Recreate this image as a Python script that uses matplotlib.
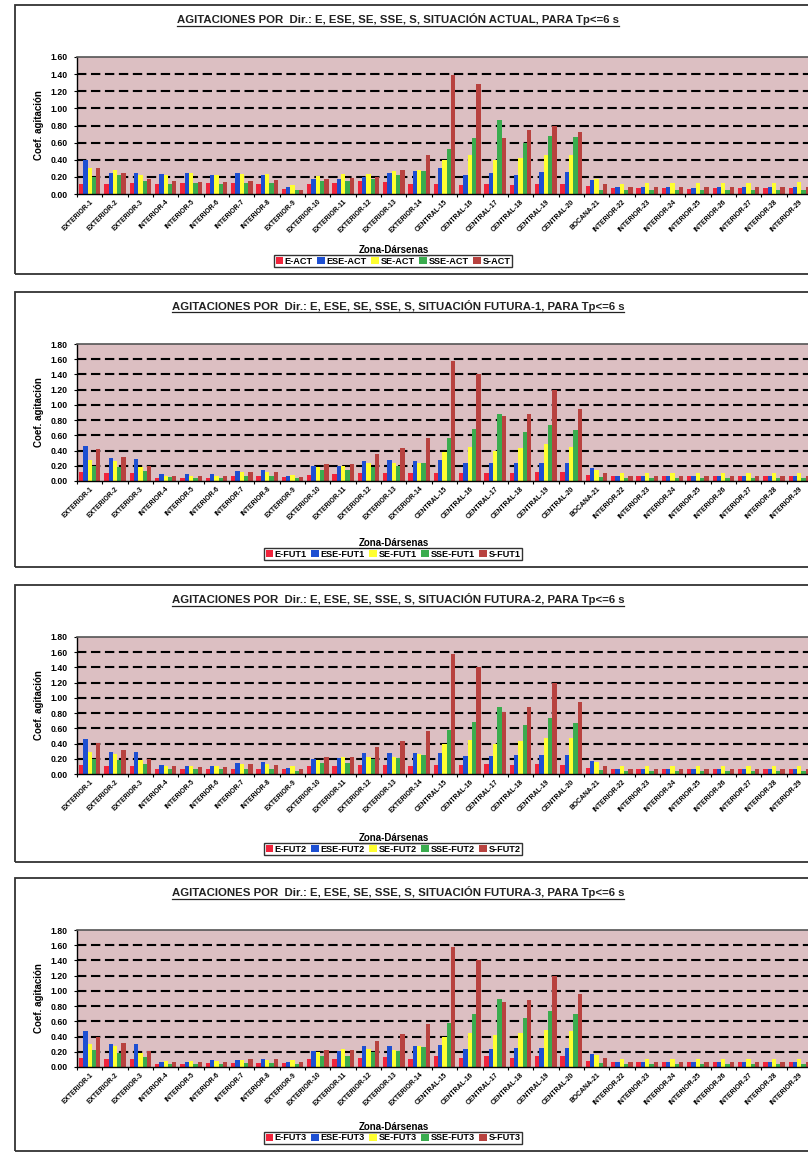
import numpy as np
import matplotlib
matplotlib.use('Agg')
import matplotlib.pyplot as plt
from matplotlib.patches import Rectangle
from matplotlib.lines import Line2D

plt.rcParams['font.family'] = ['Liberation Sans', 'DejaVu Sans']
plt.rcParams['font.weight'] = 'bold'

# categories (zones)
zonas = ['EXTERIOR-1', 'EXTERIOR-2', 'EXTERIOR-3', 'INTERIOR-4', 'INTERIOR-5',
         'INTERIOR-6', 'INTERIOR-7', 'INTERIOR-8', 'EXTERIOR-9', 'EXTERIOR-10',
         'EXTERIOR-11', 'EXTERIOR-12', 'EXTERIOR-13', 'EXTERIOR-14', 'CENTRAL-15',
         'CENTRAL-16', 'CENTRAL-17', 'CENTRAL-18', 'CENTRAL-19', 'CENTRAL-20',
         'BOCANA-21', 'INTERIOR-22', 'INTERIOR-23', 'INTERIOR-24', 'INTERIOR-25',
         'INTERIOR-26', 'INTERIOR-27', 'INTERIOR-28', 'INTERIOR-29']

# situacion actual
act_e   = [0.12,0.12,0.13,0.12,0.13,0.13,0.13,0.12,0.06,0.12,0.13,0.15,0.14,0.12,0.12,0.10,0.12,0.11,0.12,0.12,0.09,0.07,0.07,0.07,0.06,0.07,0.07,0.07,0.07]
act_ese = [0.40,0.25,0.24,0.23,0.25,0.22,0.24,0.22,0.08,0.17,0.17,0.20,0.25,0.27,0.30,0.22,0.24,0.22,0.26,0.26,0.16,0.08,0.08,0.08,0.07,0.08,0.08,0.08,0.08]
act_se  = [0.30,0.28,0.22,0.22,0.25,0.22,0.23,0.23,0.10,0.21,0.23,0.23,0.27,0.28,0.40,0.45,0.40,0.42,0.45,0.45,0.18,0.12,0.13,0.13,0.13,0.13,0.13,0.13,0.14]
act_sse = [0.20,0.22,0.15,0.12,0.13,0.12,0.13,0.13,0.05,0.15,0.15,0.17,0.22,0.27,0.52,0.65,0.86,0.60,0.68,0.66,0.05,0.05,0.05,0.05,0.05,0.05,0.05,0.05,0.05]
act_s   = [0.30,0.24,0.17,0.15,0.14,0.14,0.15,0.16,0.05,0.18,0.19,0.20,0.28,0.45,1.39,1.29,0.65,0.75,0.80,0.72,0.12,0.08,0.08,0.08,0.08,0.08,0.08,0.08,0.08]

# situacion futura 1
fut1_e   = [0.12,0.10,0.10,0.04,0.04,0.04,0.06,0.06,0.05,0.08,0.09,0.10,0.11,0.10,0.10,0.10,0.10,0.10,0.12,0.12,0.08,0.06,0.06,0.06,0.06,0.06,0.06,0.06,0.06]
fut1_ese = [0.46,0.30,0.29,0.09,0.09,0.09,0.13,0.14,0.07,0.20,0.20,0.26,0.27,0.26,0.27,0.24,0.23,0.24,0.24,0.24,0.17,0.07,0.07,0.07,0.07,0.07,0.07,0.07,0.07]
fut1_se  = [0.28,0.26,0.18,0.07,0.07,0.07,0.12,0.12,0.08,0.19,0.20,0.23,0.23,0.24,0.38,0.45,0.40,0.43,0.48,0.45,0.15,0.10,0.10,0.11,0.10,0.10,0.10,0.11,0.10]
fut1_sse = [0.20,0.18,0.13,0.05,0.04,0.04,0.07,0.07,0.04,0.14,0.15,0.18,0.20,0.24,0.57,0.68,0.88,0.65,0.73,0.67,0.05,0.04,0.04,0.04,0.04,0.04,0.04,0.04,0.04]
fut1_s   = [0.42,0.31,0.20,0.07,0.07,0.07,0.12,0.12,0.05,0.22,0.22,0.35,0.43,0.56,1.58,1.40,0.85,0.88,1.20,0.95,0.10,0.07,0.07,0.07,0.07,0.07,0.07,0.07,0.07]

# situacion futura 2
fut2_e   = [0.12,0.10,0.10,0.07,0.07,0.07,0.07,0.07,0.06,0.10,0.10,0.12,0.12,0.10,0.12,0.12,0.13,0.12,0.13,0.12,0.08,0.06,0.06,0.06,0.06,0.06,0.06,0.06,0.06]
fut2_ese = [0.46,0.29,0.29,0.12,0.10,0.10,0.14,0.16,0.08,0.20,0.21,0.27,0.27,0.27,0.28,0.24,0.23,0.25,0.25,0.25,0.17,0.07,0.07,0.07,0.07,0.07,0.07,0.07,0.07]
fut2_se  = [0.29,0.26,0.18,0.10,0.10,0.10,0.13,0.13,0.10,0.19,0.22,0.22,0.22,0.26,0.40,0.45,0.40,0.43,0.47,0.47,0.16,0.10,0.10,0.10,0.10,0.10,0.10,0.11,0.10]
fut2_sse = [0.20,0.18,0.13,0.06,0.06,0.06,0.07,0.07,0.04,0.14,0.15,0.20,0.21,0.25,0.58,0.68,0.88,0.65,0.73,0.67,0.05,0.04,0.04,0.04,0.04,0.04,0.04,0.04,0.04]
fut2_s   = [0.41,0.31,0.20,0.10,0.09,0.09,0.13,0.12,0.06,0.22,0.22,0.35,0.43,0.57,1.58,1.40,0.82,0.88,1.20,0.95,0.10,0.07,0.07,0.07,0.07,0.07,0.07,0.07,0.07]

# situacion futura 3
fut3_e   = [0.12,0.10,0.10,0.04,0.04,0.05,0.05,0.05,0.05,0.10,0.10,0.12,0.13,0.11,0.14,0.12,0.14,0.12,0.14,0.14,0.08,0.06,0.06,0.06,0.06,0.06,0.06,0.06,0.06]
fut3_ese = [0.47,0.30,0.30,0.07,0.07,0.09,0.09,0.10,0.07,0.21,0.21,0.28,0.28,0.28,0.29,0.24,0.24,0.25,0.25,0.25,0.17,0.07,0.07,0.07,0.07,0.07,0.07,0.07,0.07]
fut3_se  = [0.30,0.27,0.18,0.08,0.08,0.08,0.09,0.09,0.09,0.20,0.23,0.24,0.22,0.27,0.40,0.45,0.42,0.45,0.48,0.47,0.16,0.11,0.11,0.11,0.11,0.11,0.11,0.11,0.11]
fut3_sse = [0.22,0.18,0.13,0.04,0.04,0.04,0.05,0.05,0.04,0.15,0.15,0.20,0.21,0.26,0.58,0.70,0.90,0.65,0.73,0.69,0.05,0.04,0.04,0.04,0.04,0.04,0.04,0.04,0.04]
fut3_s   = [0.40,0.32,0.21,0.06,0.07,0.07,0.10,0.10,0.06,0.22,0.22,0.34,0.44,0.57,1.58,1.40,0.85,0.88,1.20,0.96,0.12,0.07,0.07,0.07,0.07,0.07,0.07,0.07,0.07]

colores = ['#f0243c', '#1d4fd2', '#ffff30', '#3aac4e', '#b8423f']
fondo = '#dcbfc2'

W, H = 808, 1153
fig = plt.figure(figsize=(W / 100, H / 100), dpi=100)


def px_rect(x0, y0, x1, y1):
    # pixel box (top-left origin) -> figure fraction
    return [x0 / W, 1 - y1 / H, (x1 - x0) / W, (y1 - y0) / H]


def underline(txt, lw=0.9):
    fig.canvas.draw()
    bb = txt.get_window_extent().transformed(fig.transFigure.inverted())
    fig.add_artist(Line2D([bb.x0, bb.x1], [bb.y0 - 0.5 / H, bb.y0 - 0.5 / H],
                          transform=fig.transFigure, color='#222222', lw=lw))


def panel(top, bottom, ymax, titulo, series, nombres):
    fig.add_artist(Rectangle((15 / W, 1 - bottom / H), 900 / W, (bottom - top) / H,
                             transform=fig.transFigure, fill=False,
                             edgecolor='#333333', lw=1.3))
    t = fig.text(398 / W, 1 - (top + 14) / H, titulo, ha='center', va='center',
                 fontsize=8.2, fontweight='bold', color='#222222')
    underline(t)

    ax = fig.add_axes(px_rect(77, top + 52, 812, top + 189))
    ax.set_facecolor(fondo)
    x = np.arange(len(zonas))
    wd = 0.17
    offs = [-0.34, -0.17, 0.0, 0.17, 0.34]
    for vals, c, o, n in zip(series, colores, offs, nombres):
        ax.bar(x + o, vals, width=wd, color=c, label=n, linewidth=0)
    ax.set_xlim(-0.5, len(zonas) - 0.5)
    ax.set_ylim(0, ymax)
    yt = np.arange(0, ymax + 0.001, 0.2)
    ax.set_yticks(yt)
    ax.set_yticklabels(['%.2f' % v for v in yt], fontsize=6.2, fontweight='bold')
    for v in yt[1:-1]:
        ax.axhline(v, color='black', lw=1.5, ls=(0, (4.5, 2.2)), zorder=0.5)
    ax.set_xticks(x)
    ax.set_xticklabels(zonas, rotation=45, ha='right', fontsize=4.9,
                       fontweight='bold', rotation_mode='anchor')
    ax.set_xticks(np.arange(-0.5, len(zonas)), minor=True)
    ax.tick_params(axis='x', which='major', length=0, pad=3)
    ax.tick_params(axis='x', which='minor', length=2.5, width=0.8)
    ax.tick_params(axis='y', length=2.5, width=0.8, pad=4)
    for s in ['left', 'bottom']:
        ax.spines[s].set_color('black')
        ax.spines[s].set_linewidth(1.0)
    ax.spines['top'].set_color('#555555')
    ax.spines['top'].set_linewidth(1.2)
    ax.spines['right'].set_visible(False)
    ax.set_axisbelow(True)
    ax.set_ylabel('Coef. agitación', fontsize=7, fontweight='bold', labelpad=5)

    zx = fig.text(394 / W, 1 - (bottom - 24) / H, 'Zona-Dársenas', ha='center',
                  va='center', fontsize=7, fontweight='bold')
    underline(zx, lw=0.7)
    lg = fig.legend(*ax.get_legend_handles_labels(), loc='center',
                    bbox_to_anchor=(393 / W, 1 - (bottom - 13) / H), ncol=5,
                    fontsize=6.6, frameon=True, fancybox=False, handlelength=0.8,
                    handleheight=0.8, handletextpad=0.2, columnspacing=0.5,
                    borderpad=0.2, borderaxespad=0)
    lg.get_frame().set_edgecolor('black')
    lg.get_frame().set_linewidth(1.0)
    for tx in lg.get_texts():
        tx.set_fontweight('bold')
    return ax


panel(5, 274, 1.6,
      'AGITACIONES POR  Dir.: E, ESE, SE, SSE, S, SITUACIÓN ACTUAL, PARA Tp<=6 s',
      [act_e, act_ese, act_se, act_sse, act_s],
      ['E-ACT', 'ESE-ACT', 'SE-ACT', 'SSE-ACT', 'S-ACT'])
panel(292, 567, 1.8,
      'AGITACIONES POR  Dir.: E, ESE, SE, SSE, S, SITUACIÓN FUTURA-1, PARA Tp<=6 s',
      [fut1_e, fut1_ese, fut1_se, fut1_sse, fut1_s],
      ['E-FUT1', 'ESE-FUT1', 'SE-FUT1', 'SSE-FUT1', 'S-FUT1'])
panel(585, 862, 1.8,
      'AGITACIONES POR  Dir.: E, ESE, SE, SSE, S, SITUACIÓN FUTURA-2, PARA Tp<=6 s',
      [fut2_e, fut2_ese, fut2_se, fut2_sse, fut2_s],
      ['E-FUT2', 'ESE-FUT2', 'SE-FUT2', 'SSE-FUT2', 'S-FUT2'])
panel(878, 1151, 1.8,
      'AGITACIONES POR  Dir.: E, ESE, SE, SSE, S, SITUACIÓN FUTURA-3, PARA Tp<=6 s',
      [fut3_e, fut3_ese, fut3_se, fut3_sse, fut3_s],
      ['E-FUT3', 'ESE-FUT3', 'SE-FUT3', 'SSE-FUT3', 'S-FUT3'])

fig.savefig('out.png', dpi=100)
